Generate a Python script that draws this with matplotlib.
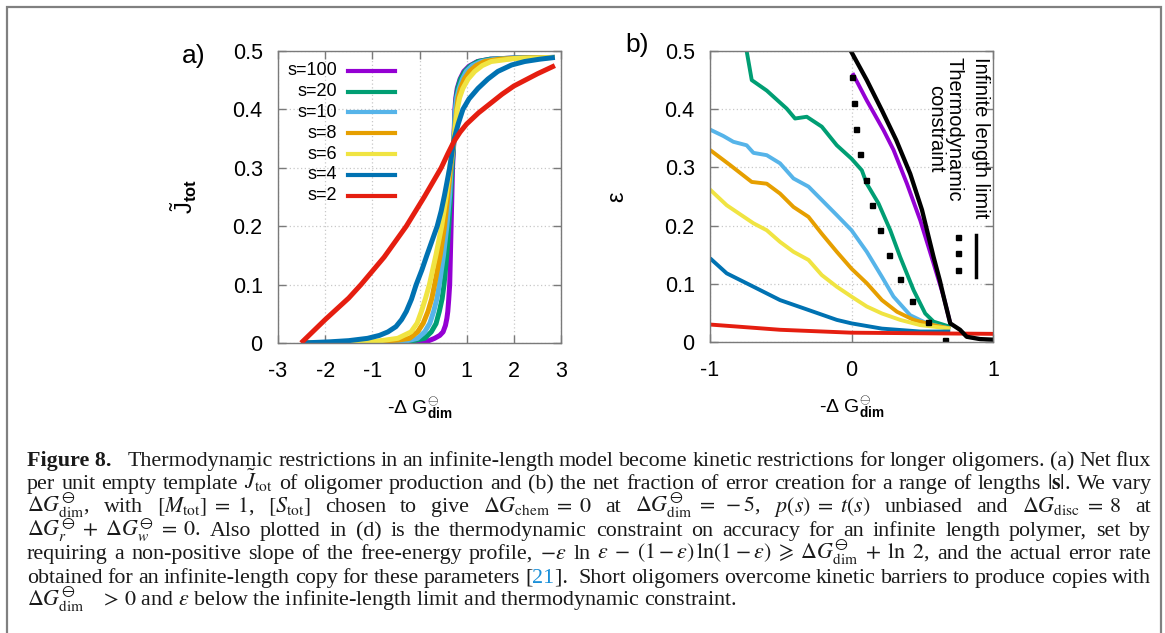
import matplotlib
matplotlib.use('Agg')
import matplotlib.pyplot as plt
from matplotlib.patches import Rectangle

plt.rcParams['font.family'] = ['Liberation Sans', 'DejaVu Sans']
plt.rcParams['axes.unicode_minus'] = False
plt.rcParams['mathtext.fontset'] = 'custom'
plt.rcParams['mathtext.rm'] = 'Liberation Sans'
plt.rcParams['mathtext.it'] = 'Liberation Sans:italic'
plt.rcParams['mathtext.bf'] = 'Liberation Sans:bold'

# ---- panel a: J_tot vs -dG_dim ----
ja_s100_x = [-2.5, 0.0, 0.2, 0.32, 0.43, 0.50, 0.55, 0.58, 0.60, 0.62, 0.64, 0.67, 0.70, 0.73, 0.75, 0.77, 0.80,
             0.86, 0.94, 1.05, 1.23, 1.5, 2.0, 2.87]
ja_s100_y = [0, 0, 0.004, 0.008, 0.013, 0.019, 0.03, 0.042, 0.054, 0.075, 0.1, 0.2, 0.3, 0.348, 0.4, 0.42, 0.436,
             0.452, 0.465, 0.474, 0.482, 0.486, 0.488, 0.489]
ja_s20_x = [-2.5, -0.3, 0.11, 0.25, 0.35, 0.42, 0.48, 0.52, 0.58, 0.62, 0.66, 0.69, 0.73, 0.76, 0.78, 0.81, 0.87,
            0.96, 1.07, 1.24, 1.5, 2.0, 2.87]
ja_s20_y = [0, 0.001, 0.008, 0.019, 0.033, 0.054, 0.076, 0.1, 0.151, 0.2, 0.253, 0.3, 0.348, 0.4, 0.42, 0.436, 0.452,
            0.465, 0.474, 0.482, 0.486, 0.488, 0.489]
ja_s10_x = [-2.5, -0.6, -0.25, -0.04, 0.11, 0.22, 0.30, 0.37, 0.42, 0.51, 0.58, 0.64, 0.67, 0.73, 0.76, 0.79, 0.84,
            0.91, 0.99, 1.12, 1.31, 1.6, 2.1, 2.87]
ja_s10_y = [0, 0.001, 0.004, 0.008, 0.019, 0.034, 0.054, 0.076, 0.1, 0.151, 0.2, 0.253, 0.3, 0.348, 0.4, 0.42, 0.436,
            0.452, 0.465, 0.475, 0.482, 0.486, 0.488, 0.489]
ja_s8_x = [-2.5, -1.0, -0.45, -0.21, -0.04, 0.08, 0.18, 0.26, 0.32, 0.44, 0.53, 0.60, 0.66, 0.73, 0.79, 0.82, 0.87,
           0.95, 1.06, 1.2, 1.38, 1.7, 2.2, 2.87]
ja_s8_y = [0, 0.002, 0.005, 0.008, 0.019, 0.034, 0.054, 0.076, 0.1, 0.151, 0.2, 0.253, 0.3, 0.348, 0.4, 0.42, 0.436,
           0.452, 0.465, 0.475, 0.482, 0.486, 0.488, 0.489]
ja_s6_x = [-2.5, -1.5, -0.9, -0.46, -0.18, -0.05, 0.04, 0.13, 0.21, 0.35, 0.47, 0.57, 0.64, 0.73, 0.80, 0.85, 0.92,
           1.03, 1.17, 1.33, 1.52, 2.0, 2.87]
ja_s6_y = [0, 0.001, 0.003, 0.008, 0.019, 0.034, 0.054, 0.077, 0.1, 0.151, 0.2, 0.253, 0.3, 0.348, 0.4, 0.42, 0.436,
           0.452, 0.465, 0.475, 0.482, 0.487, 0.489]
ja_s4_x = [-2.5, -1.9, -1.5, -1.1, -0.85, -0.67, -0.5, -0.38, -0.28, -0.17, -0.07, 0.05, 0.16, 0.27, 0.375, 0.46,
           0.53, 0.64, 0.73, 0.82, 0.92, 1.05, 1.24, 1.45, 1.66, 1.95, 2.23, 2.55, 2.87]
ja_s4_y = [0, 0.002, 0.004, 0.008, 0.013, 0.019, 0.028, 0.040, 0.054, 0.075, 0.1, 0.125, 0.151, 0.176, 0.2, 0.226,
           0.253, 0.3, 0.348, 0.375, 0.4, 0.418, 0.436, 0.452, 0.465, 0.476, 0.482, 0.486, 0.489]
ja_s2_x = [-2.51, -2.0, -1.5, -1.24, -0.75, -0.28, 0.1, 0.46, 0.6, 0.73, 0.86, 1.0, 1.25, 1.5, 1.75, 2.0, 2.5, 2.87]
ja_s2_y = [0, 0.04, 0.077, 0.1, 0.147, 0.2, 0.25, 0.3, 0.324, 0.345, 0.361, 0.375, 0.394, 0.41, 0.426, 0.44, 0.461,
           0.475]

# ---- panel b: error fraction vs -dG_dim ----
eb_s100_x = [0.007, 0.108, 0.226, 0.297, 0.392, 0.486, 0.58, 0.651, 0.698]
eb_s100_y = [0.462, 0.415, 0.364, 0.33, 0.272, 0.209, 0.135, 0.078, 0.032]
eb_s20_x = [-0.741, -0.705, -0.599, -0.458, -0.399, -0.316, -0.21, -0.104, 0.0, 0.073, 0.108, 0.191, 0.274, 0.344,
            0.439, 0.521, 0.58, 0.698]
eb_s20_y = [0.5, 0.45, 0.432, 0.401, 0.384, 0.387, 0.37, 0.338, 0.315, 0.295, 0.272, 0.238, 0.192, 0.146, 0.089,
            0.049, 0.035, 0.026]
eb_s10_x = [-1.0, -0.906, -0.835, -0.741, -0.693, -0.599, -0.505, -0.41, -0.304, -0.21, -0.104, 0.0, 0.108, 0.215,
            0.297, 0.415, 0.533, 0.698]
eb_s10_y = [0.365, 0.354, 0.344, 0.338, 0.325, 0.321, 0.307, 0.281, 0.267, 0.244, 0.218, 0.192, 0.155, 0.112, 0.078,
            0.046, 0.032, 0.023]
eb_s8_x = [-1.0, -0.858, -0.705, -0.599, -0.505, -0.41, -0.304, -0.21, -0.104, 0.0, 0.108, 0.215, 0.321, 0.439, 0.58,
           0.698]
eb_s8_y = [0.33, 0.304, 0.275, 0.272, 0.255, 0.232, 0.215, 0.186, 0.155, 0.126, 0.101, 0.072, 0.052, 0.038, 0.029,
           0.023]
eb_s6_x = [-1.0, -0.882, -0.693, -0.599, -0.505, -0.41, -0.304, -0.21, -0.104, 0.0, 0.108, 0.215, 0.344, 0.486, 0.698]
eb_s6_y = [0.262, 0.235, 0.204, 0.192, 0.172, 0.155, 0.141, 0.115, 0.095, 0.078, 0.061, 0.049, 0.038, 0.029, 0.023]
eb_s4_x = [-1.0, -0.882, -0.693, -0.505, -0.304, -0.104, 0.0, 0.215, 0.486, 0.698]
eb_s4_y = [0.144, 0.118, 0.095, 0.072, 0.055, 0.038, 0.032, 0.023, 0.018, 0.018]
eb_s2_x = [-1.0, -0.505, 0.0, 0.486, 1.0]
eb_s2_y = [0.030, 0.021, 0.016, 0.015, 0.014]
inf_x = [0.0, 0.108, 0.215, 0.316, 0.415, 0.498, 0.58, 0.625, 0.651, 0.698, 0.767, 0.814, 0.908, 1.0]
inf_y = [0.498, 0.45, 0.398, 0.347, 0.289, 0.227, 0.146, 0.105, 0.078, 0.032, 0.021, 0.009, 0.005, 0.004]
thermo_x = [0.007, 0.019, 0.035, 0.061, 0.099, 0.144, 0.198, 0.264, 0.344, 0.427, 0.538, 0.663]
thermo_y = [0.455, 0.411, 0.366, 0.323, 0.278, 0.236, 0.192, 0.150, 0.109, 0.071, 0.035, 0.003]

labels = ['s=100', 's=20', 's=10', 's=8', 's=6', 's=4', 's=2']
colors = ['#9400d3', '#009e73', '#56b4e9', '#e69f00', '#f0e442', '#0072b2', '#e51e10']
panel_a = [(ja_s100_x, ja_s100_y), (ja_s20_x, ja_s20_y), (ja_s10_x, ja_s10_y), (ja_s8_x, ja_s8_y),
           (ja_s6_x, ja_s6_y), (ja_s4_x, ja_s4_y), (ja_s2_x, ja_s2_y)]
panel_b = [(eb_s100_x, eb_s100_y), (eb_s20_x, eb_s20_y), (eb_s10_x, eb_s10_y), (eb_s8_x, eb_s8_y),
           (eb_s6_x, eb_s6_y), (eb_s4_x, eb_s4_y), (eb_s2_x, eb_s2_y)]

W, H = 1165, 633
fig = plt.figure(figsize=(W / 100, H / 100), dpi=100)
ax1 = fig.add_axes([278 / W, 1 - 343 / H, 283 / W, 292 / H])
ax2 = fig.add_axes([710 / W, 1 - 342 / H, 283 / W, 291 / H])

frame_col = '#7a7a7a'


def style_axes(ax):
    for sp in ax.spines.values():
        sp.set_color(frame_col)
        sp.set_linewidth(1.0)
    ax.tick_params(direction='in', length=6, width=1, color=frame_col, top=True, right=True,
                   labelsize=15.5)
    ax.tick_params(axis='x', pad=13)
    ax.tick_params(axis='y', pad=11)
    ax.grid(True, linestyle=(0, (1, 2)), color='#c8c8c8', linewidth=0.9)
    ax.set_ylim(0, 0.5)
    ax.set_yticks([0, 0.1, 0.2, 0.3, 0.4, 0.5])
    ax.set_yticklabels(['0', '0.1', '0.2', '0.3', '0.4', '0.5'])


xlab = '-' + r'$\Delta\ \mathrm{G}^{\ominus}_{\mathbf{dim}}$'

# panel a
for (x, y), c in zip(panel_a, colors):
    ax1.plot(x, y, color=c, lw=3.6, solid_capstyle='butt', solid_joinstyle='round')
ax1.set_xlim(-3, 3)
ax1.set_xticks([-3, -2, -1, 0, 1, 2, 3])
style_axes(ax1)
ax1.set_ylabel(r'$\tilde{\mathrm{J}}_{\mathbf{tot}}$', fontsize=17)
ax1.yaxis.set_label_coords(-0.28, 0.5)
ax1.set_xlabel(xlab, fontsize=14)
ax1.xaxis.set_label_coords(0.5, -0.18)

# manual legend, labels right-aligned
for i, (lab, c) in enumerate(zip(labels, colors)):
    yy = 0.932 - i * 0.0713
    ax1.text(0.208, yy, lab, transform=ax1.transAxes, ha='right', va='center', fontsize=13)
    ax1.plot([0.247, 0.413], [yy, yy], transform=ax1.transAxes, color=c, lw=3)

# panel b
for (x, y), c in zip(panel_b, colors):
    ax2.plot(x, y, color=c, lw=2.8, solid_capstyle='butt', solid_joinstyle='round')
ax2.plot(inf_x, inf_y, color='black', lw=3.1, solid_joinstyle='round')
ax2.plot(thermo_x, thermo_y, ls='none', marker='s', ms=3.6, color='black')
ax2.set_xlim(-1, 1)
ax2.set_xticks([-1, 0, 1])
style_axes(ax2)
ax2.set_ylabel('ε', fontsize=17)
ax2.yaxis.set_label_coords(-0.29, 0.5)
ax2.set_xlabel(xlab, fontsize=14)
ax2.xaxis.set_label_coords(0.5, -0.18)

ax2.text(0.955, 0.98, 'Infinite length limit', transform=ax2.transAxes, rotation=-90,
         ha='center', va='top', fontsize=14.5)
ax2.text(0.83, 0.98, 'Thermodynamic\nconstraint', transform=ax2.transAxes, rotation=-90,
         ha='center', va='top', fontsize=14.5, linespacing=0.95)
ax2.plot([0.940, 0.940], [0.368, 0.223], transform=ax2.transAxes, color='black', lw=2.5)
ax2.plot([0.875, 0.875, 0.875], [0.361, 0.306, 0.247], transform=ax2.transAxes, ls='none',
         marker='s', ms=3.6, color='black')

fig.text(182 / W, 1 - 56 / H, 'a)', fontsize=19, va='center')
fig.text(625 / W, 1 - 45 / H, 'b)', fontsize=19, va='center')

# ---- caption ----
cap_kw = dict(fontsize=15.8, family='Liberation Serif', math_fontfamily='stix', va='baseline',
              color='#1a1a1a')
x_left, x_right = 27, 1151
base = [466, 489, 512, 536, 559, 583, 606]
r = fig.canvas.get_renderer()


def split_words(s):
    words, cur, inmath = [], '', False
    for ch in s:
        if ch == '$':
            inmath = not inmath
        if ch == ' ' and not inmath:
            if cur:
                words.append(cur)
            cur = ''
        else:
            cur += ch
    if cur:
        words.append(cur)
    return words


def justify(words, x0, x1, yb):
    # each word is a list of (string, colour) pieces set side by side
    groups, total = [], 0
    for w in words:
        pieces = w if isinstance(w, list) else [(w, '#1a1a1a')]
        arts, wid = [], 0
        for s, c in pieces:
            kw = dict(cap_kw)
            kw['color'] = c
            t = fig.text(0, 1 - yb / H, s, **kw)
            ww = t.get_window_extent(r).width
            arts.append((t, wid))
            wid += ww
        groups.append((arts, wid))
        total += wid
    gap = (x1 - x0 - total) / (len(groups) - 1)
    xp = x0
    for arts, wid in groups:
        for t, off in arts:
            t.set_x((xp + off) / W)
        xp += wid + gap


fig.text(x_left / W, 1 - base[0] / H, 'Figure 8.', fontweight='bold', **cap_kw)
justify(split_words('Thermodynamic restrictions in an infinite-length model become kinetic restrictions '
                    'for longer oligomers. (a) Net flux'), 128, x_right, base[0])
lines = [
    r'per unit empty template $\tilde{J}_{\mathrm{tot}}$ of oligomer production and (b) the net fraction '
    r'of error creation for a range of lengths $|\mathbf{s}|$. We vary',
    r'$\Delta G^{\ominus}_{\mathrm{dim}}$, with $[M_{\mathrm{tot}}]\;=\;1$, $[S_{\mathrm{tot}}]$ chosen to give '
    r'$\Delta G_{\mathrm{chem}}\;=\;0$ at $\Delta G^{\ominus}_{\mathrm{dim}}\;=\;-5$, $p(s)\;=\;t(s)$ unbiased and '
    r'$\Delta G_{\mathrm{disc}}\;=\;8$ at',
    r'$\Delta G^{\ominus}_{r}\;+\;\Delta G^{\ominus}_{w}\;=\;0$. Also plotted in (d) is the thermodynamic '
    r'constraint on accuracy for an infinite length polymer, set by',
    r'requiring a non-positive slope of the free-energy profile, $-\epsilon$ ln $\epsilon\;-\;(1-\epsilon)\,'
    r'\ln(1-\epsilon)\;\geqslant\;\Delta G^{\ominus}_{\mathrm{dim}}\;+\;\ln\ 2$, and the actual error rate',
]
for ln, b in zip(lines, base[1:5]):
    justify(split_words(ln), x_left, x_right, b)

words6 = split_words('obtained for an infinite-length copy for these parameters')
words6.append([('[', '#1a1a1a'), ('21', '#1a8fd8'), (']. ', '#1a1a1a')])
words6 += split_words('Short oligomers overcome kinetic barriers to produce copies with')
justify(words6, x_left, x_right, base[5])

fig.text(x_left / W, 1 - base[6] / H, r'$\Delta G^{\ominus}_{\mathrm{dim}}$   $>\,0$ and $\epsilon$ below the '
         r'infinite-length limit and thermodynamic constraint.', **cap_kw)

fig.patches.append(Rectangle((7 / W, -0.05), (1161 - 7) / W, 1 - 7 / H + 0.05, transform=fig.transFigure,
                             fill=False, edgecolor='#808080', lw=1.6))

fig.savefig('out.png', dpi=100)
